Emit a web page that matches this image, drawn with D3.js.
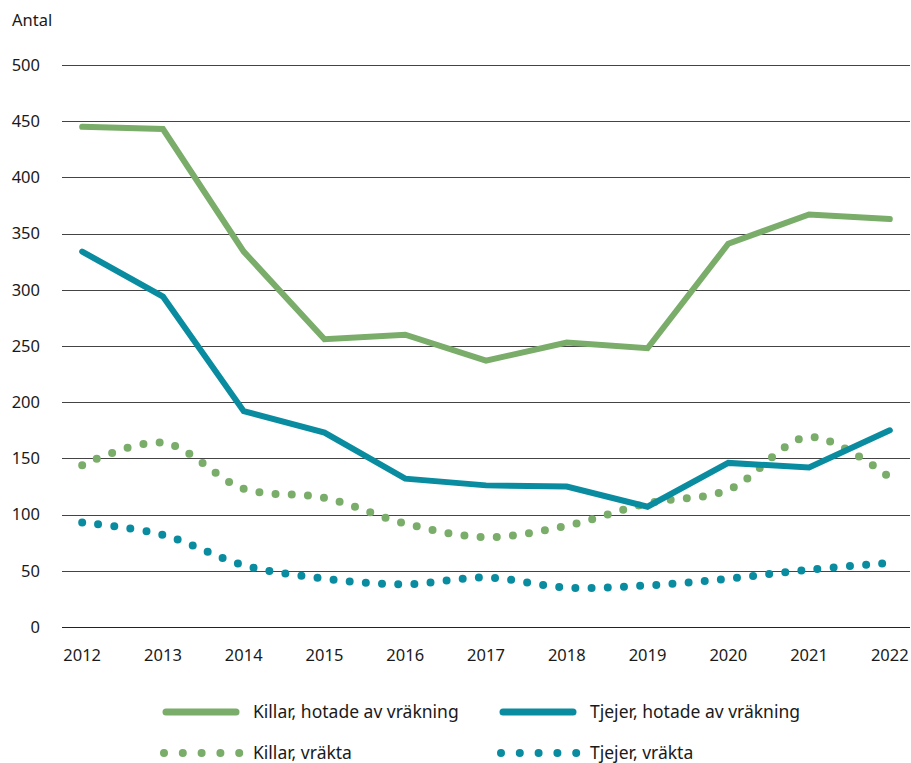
<!DOCTYPE html>
<html><head><meta charset="utf-8">
<script src="https://cdn.jsdelivr.net/npm/d3@7"></script>
<style>body{margin:0;background:#fff;font-family:"Noto Sans",sans-serif;}</style>
</head><body><svg id="c" width="911" height="763"></svg>
<script>
const years = ["2012","2013","2014","2015","2016","2017","2018","2019","2020","2021","2022"];
const killarHotade = [445, 443, 334, 256, 260, 237, 253, 248, 341, 367, 363];
const tjejerHotade = [334, 294, 192, 173, 132, 126, 125, 107, 146, 142, 175];
const killarVrakta = [144, 164, 123, 115, 92, 80, 90, 110, 122, 169, 133];
const tjejerVrakta = [93, 82, 55, 43, 38, 44, 35, 37, 43, 51, 57];
const yTicks = [0, 50, 100, 150, 200, 250, 300, 350, 400, 450, 500];
const seriesNames = ["Killar, hotade av vräkning", "Tjejer, hotade av vräkning", "Killar, vräkta", "Tjejer, vräkta"];
const green = "#79ad69", teal = "#0a8ca0";

const svg = d3.select("#c");
const x = d3.scalePoint().domain(years).range([62, 910]).padding(0.25);
const y = d3.scaleLinear().domain([0, 500]).range([627, 65]);

// grid
svg.append("g").selectAll("line").data(yTicks).join("line")
  .attr("x1", 62).attr("x2", 910)
  .attr("y1", d => Math.round(y(d)) + 0.5).attr("y2", d => Math.round(y(d)) + 0.5)
  .attr("stroke", d => d === 0 ? "#222" : "#444").attr("stroke-width", 1);
svg.append("g").selectAll("text").data(yTicks).join("text")
  .attr("x", 40).attr("y", d => y(d)).attr("dy", "0.35em")
  .attr("text-anchor", "end").attr("font-size", 16.5).attr("fill", "#1a1a1a").text(d => d);
svg.append("text").attr("x", 12).attr("y", 26).attr("font-size", 16.5).attr("fill", "#1a1a1a").text("Antal");
svg.append("g").selectAll("text").data(years).join("text")
  .attr("x", d => x(d)).attr("y", 661).attr("text-anchor", "middle")
  .attr("font-size", 16.5).attr("fill", "#1a1a1a").text(d => d);

const straight = d3.line().x((d, i) => x(years[i])).y(d => y(d));
const smooth = d3.line().x((d, i) => x(years[i])).y(d => y(d)).curve(d3.curveCatmullRom.alpha(0.5));

function dotted(data, color) {
  svg.append("path").attr("d", smooth(data)).attr("fill", "none")
    .attr("stroke", color).attr("stroke-width", 8).attr("stroke-linecap", "round")
    .attr("stroke-dasharray", "0 16.2");
}
dotted(killarVrakta, green);
dotted(tjejerVrakta, teal);
function solid(data, color) {
  svg.append("path").attr("d", straight(data)).attr("fill", "none")
    .attr("stroke", color).attr("stroke-width", 6).attr("stroke-linecap", "round").attr("stroke-linejoin", "miter");
}
solid(killarHotade, green);
solid(tjejerHotade, teal);

// legend
const leg = [
  {name: seriesNames[0], color: green, type: "solid", x: 163, y: 712},
  {name: seriesNames[1], color: teal, type: "solid", x: 500, y: 712},
  {name: seriesNames[2], color: green, type: "dot", x: 163, y: 753},
  {name: seriesNames[3], color: teal, type: "dot", x: 500, y: 753}
];
leg.forEach(l => {
  if (l.type === "solid") {
    svg.append("line").attr("x1", l.x + 3).attr("x2", l.x + 73).attr("y1", l.y).attr("y2", l.y)
      .attr("stroke", l.color).attr("stroke-width", 7).attr("stroke-linecap", "round");
  } else {
    svg.append("line").attr("x1", l.x + 1).attr("x2", l.x + 76.5).attr("y1", l.y).attr("y2", l.y)
      .attr("stroke", l.color).attr("stroke-width", 8).attr("stroke-linecap", "round")
      .attr("stroke-dasharray", "0 18.8");
  }
  svg.append("text").attr("x", l.x + 90).attr("y", l.y).attr("dy", "0.35em")
    .attr("font-size", 17.5).attr("fill", "#1a1a1a").text(l.name);
});
</script></body></html>
